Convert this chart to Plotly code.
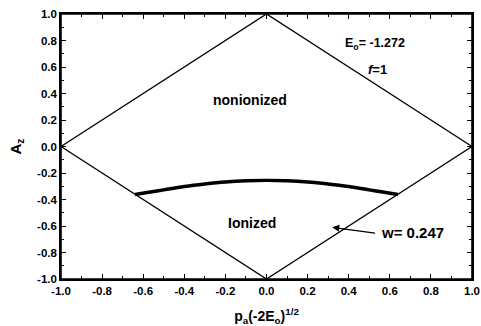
import plotly.graph_objects as go

# Diamond boundary
diamond_x = [-1.0, 0.0, 1.0, 0.0, -1.0]
diamond_y = [0.0, 1.0, 0.0, -1.0, 0.0]

# Ionization threshold curve (w = 0.247)
curve_x = [-0.64, -0.55, -0.5, -0.4, -0.3, -0.2, -0.1, 0.0, 0.1, 0.2, 0.3, 0.4, 0.5, 0.55, 0.64]
curve_y = [-0.362, -0.34, -0.327, -0.302, -0.283, -0.268, -0.259, -0.256, -0.259, -0.268, -0.283, -0.302, -0.327, -0.34, -0.362]

tick_vals = [-1.0, -0.8, -0.6, -0.4, -0.2, 0.0, 0.2, 0.4, 0.6, 0.8, 1.0]
tick_text = ["-1.0", "-0.8", "-0.6", "-0.4", "-0.2", "0.0", "0.2", "0.4", "0.6", "0.8", "1.0"]

FONT = "Liberation Sans, Arial, sans-serif"

fig = go.Figure()
fig.add_trace(go.Scatter(x=diamond_x, y=diamond_y, mode="lines",
                         line=dict(color="black", width=1.4), showlegend=False))
fig.add_trace(go.Scatter(x=curve_x, y=curve_y, mode="lines",
                         line=dict(color="black", width=3.4, shape="spline"), showlegend=False))

fig.add_annotation(x=-0.08, y=0.35, text="<b>nonionized</b>", showarrow=False,
                   font=dict(family=FONT, size=14, color="black"))
fig.add_annotation(x=-0.07, y=-0.575, text="<b>Ionized</b>", showarrow=False,
                   font=dict(family=FONT, size=14, color="black"))
fig.add_annotation(x=0.53, y=0.77, text="<b>E<sub>o</sub>= -1.272</b>", showarrow=False,
                   font=dict(family=FONT, size=12.5, color="black"))
fig.add_annotation(x=0.54, y=0.58, text="<b><i>f</i>=1</b>", showarrow=False,
                   font=dict(family=FONT, size=13, color="black"))
fig.add_annotation(x=0.71, y=-0.65, text="<b>w= 0.247</b>", showarrow=False,
                   font=dict(family=FONT, size=15, color="black"))
fig.add_annotation(x=0.32, y=-0.61, ax=0.535, ay=-0.655, axref="x", ayref="y",
                   text="", showarrow=True, arrowhead=2, arrowsize=1, arrowwidth=1.4, arrowcolor="black")

axis_common = dict(showline=True, linecolor="black", linewidth=1.6, mirror="ticks",
                   ticks="inside", ticklen=5, tickwidth=1.3, tickcolor="black",
                   showgrid=False, zeroline=False, automargin=False,
                   tickfont=dict(family=FONT, size=11.5, color="black"),
                   tickvals=tick_vals, ticktext=["<b>%s</b>" % t for t in tick_text],
                   minor=dict(dtick=0.1, tick0=0, ticks="inside", ticklen=3, tickcolor="black", tickwidth=1))

fig.update_xaxes(range=[-1.0, 1.0], **axis_common,
                 title=dict(text="<b>p<sub>a</sub>(-2E<sub>o</sub>)<sup>1/2</sup></b>",
                            font=dict(family=FONT, size=14, color="black"), standoff=16))
fig.update_yaxes(range=[-1.0, 1.0], **axis_common,
                 title=dict(text="<b>A<sub>z</sub></b>",
                            font=dict(family=FONT, size=15, color="black"), standoff=12))

# plot frame
fig.add_shape(type="rect", xref="paper", yref="paper", x0=0, x1=1, y0=0, y1=1,
              line=dict(color="black", width=1.6), layer="above")

fig.update_layout(width=481, height=326, margin=dict(l=61, r=9, t=14, b=47),
                  plot_bgcolor="white", paper_bgcolor="white")

fig.write_html("out.html", config={"displayModeBar": False},
               post_script="document.body.style.margin='0';document.body.style.overflow='hidden';")
